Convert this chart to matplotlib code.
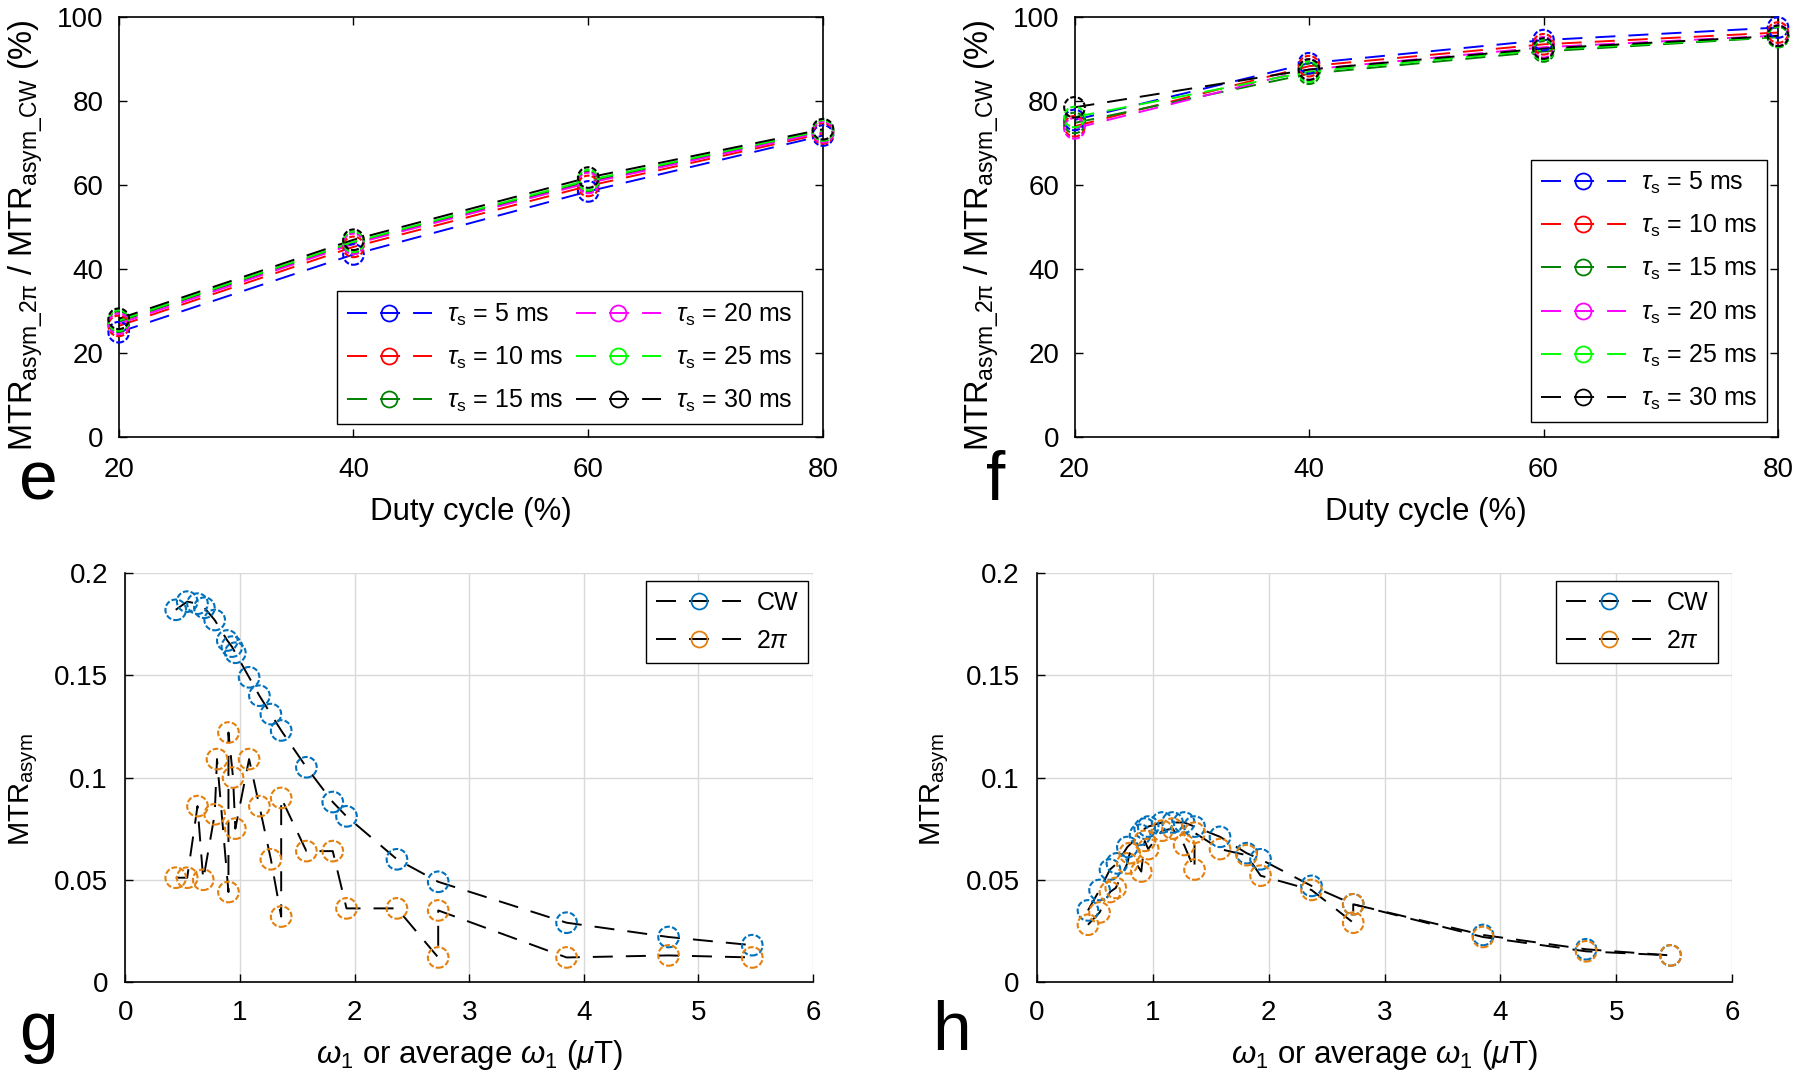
import matplotlib
matplotlib.use("Agg")
import matplotlib.pyplot as plt
from matplotlib.lines import Line2D

plt.rcParams.update({
    'font.family': 'Liberation Sans',
    'mathtext.fontset': 'custom',
    'mathtext.rm': 'Liberation Sans',
    'mathtext.it': 'Liberation Sans:italic',
    'mathtext.bf': 'Liberation Sans:bold',
    'lines.scale_dashes': False,
})

# ---- panels e / f : ratio vs duty cycle ----
duty_cycle = [20, 40, 60, 80]
tau_labels = [r'$\tau_\mathrm{s}$ = 5 ms', r'$\tau_\mathrm{s}$ = 10 ms', r'$\tau_\mathrm{s}$ = 15 ms',
              r'$\tau_\mathrm{s}$ = 20 ms', r'$\tau_\mathrm{s}$ = 25 ms', r'$\tau_\mathrm{s}$ = 30 ms']
tau_colors = ['#0000ff', '#ff0000', '#008000', '#ff00ff', '#00ff00', '#000000']

e_5ms = [25.0, 43.5, 58.5, 71.8]
e_10ms = [26.5, 45.3, 59.8, 72.3]
e_15ms = [27.5, 46.3, 60.8, 72.8]
e_20ms = [27.0, 46.0, 60.5, 72.6]
e_25ms = [27.8, 46.5, 61.2, 73.0]
e_30ms = [28.2, 47.0, 61.8, 73.3]

f_5ms = [75.5, 89.0, 94.5, 97.5]
f_10ms = [74.0, 88.3, 93.5, 96.3]
f_15ms = [74.8, 86.5, 91.8, 95.2]
f_20ms = [73.5, 87.5, 92.8, 95.6]
f_25ms = [76.2, 87.0, 92.2, 95.3]
f_30ms = [78.5, 87.5, 92.5, 95.5]

# ---- panels g / h : MTRasym vs omega1 ----
omega_cw = [0.44, 0.54, 0.63, 0.69, 0.78, 0.89, 0.93, 0.96, 1.08, 1.17,
            1.27, 1.36, 1.58, 1.81, 1.93, 2.37, 2.73, 3.85, 4.74, 5.47]
g_cw = [0.182, 0.186, 0.185, 0.183, 0.177, 0.167, 0.164, 0.161, 0.149, 0.140,
        0.131, 0.123, 0.105, 0.088, 0.081, 0.060, 0.049, 0.029, 0.022, 0.018]
h_cw = [0.035, 0.045, 0.055, 0.058, 0.066, 0.072, 0.075, 0.076, 0.078, 0.078,
        0.078, 0.076, 0.071, 0.063, 0.060, 0.047, 0.038, 0.023, 0.016, 0.013]

omega_2pi_g = [0.44, 0.54, 0.63, 0.68, 0.78, 0.80, 0.90, 0.90, 0.94, 0.96, 1.08, 1.17,
               1.27, 1.36, 1.36, 1.58, 1.81, 1.93, 2.37, 2.73, 2.73, 3.85, 4.74, 5.47]
g_2pi = [0.051, 0.051, 0.086, 0.050, 0.082, 0.109, 0.044, 0.122, 0.100, 0.075, 0.109, 0.086,
         0.060, 0.032, 0.090, 0.064, 0.064, 0.036, 0.036, 0.012, 0.035, 0.012, 0.013, 0.012]

omega_2pi_h = [0.44, 0.54, 0.63, 0.68, 0.78, 0.80, 0.90, 0.93, 0.96, 1.08, 1.17, 1.27,
               1.36, 1.36, 1.58, 1.81, 1.93, 2.37, 2.73, 2.73, 3.85, 4.74, 5.47]
h_2pi = [0.028, 0.034, 0.044, 0.046, 0.058, 0.063, 0.054, 0.069, 0.065, 0.074, 0.075, 0.067,
         0.055, 0.073, 0.065, 0.062, 0.052, 0.045, 0.029, 0.038, 0.022, 0.015, 0.013]

CW_COLOR = '#0072bd'
PI_COLOR = '#e3800e'
DASH = (14.4, 9.4)
MARKER_DASH = (0, (4, 1.6))
LINE_W = 1.4
MARKER_S = 220
LEG_FONT = 18

W, H = 1800, 1083


def px_axes(fig, left, top, right, bottom):
    return fig.add_axes([left / W, 1 - bottom / H, (right - left) / W, (bottom - top) / H])


def legend_handle(line_color, marker_color):
    return Line2D([], [], color=line_color, lw=LINE_W, dashes=DASH, marker='o',
                  markersize=11.5, mfc='none', mec=marker_color, mew=1.3)


def draw_series(ax, x, y, line_color, marker_color):
    ax.plot(x, y, color=line_color, lw=LINE_W, dashes=DASH, zorder=2)
    ax.scatter(x, y, s=MARKER_S, facecolors='none', edgecolors=marker_color,
               linewidths=1.5, linestyles=MARKER_DASH, zorder=3, clip_on=False)


def duty_panel(fig, rect, series, ncol, anchor):
    ax = px_axes(fig, *rect)
    for vals, color in zip(series, tau_colors):
        draw_series(ax, duty_cycle, vals, color, color)
    ax.set_xlim(20, 80)
    ax.set_ylim(0, 100)
    ax.set_xticks([20, 40, 60, 80])
    ax.set_yticks([0, 20, 40, 60, 80, 100])
    ax.tick_params(direction='in', length=6, width=1.0, top=True, right=True,
                   labelsize=20, pad=11)
    ax.tick_params(axis='x', pad=14)
    for sp in ax.spines.values():
        sp.set_linewidth(1.2)
    ax.set_xlabel('Duty cycle (%)', fontsize=22.5)
    ax.xaxis.set_label_coords(0.5, -0.142)
    ax.set_ylabel(r'MTR$_{\mathrm{asym\_2\pi}}$ / MTR$_{\mathrm{asym\_CW}}$ (%)', fontsize=23.5)
    ax.yaxis.set_label_coords(-0.105, 0.48)
    handles = [legend_handle(c, c) for c in tau_colors]
    leg = ax.legend(handles, tau_labels, ncol=ncol, loc='lower right',
                    bbox_to_anchor=anchor, bbox_transform=fig.transFigure,
                    fontsize=LEG_FONT, handlelength=3.4, handletextpad=0.6,
                    columnspacing=0.5, borderpad=0.4, labelspacing=0.68,
                    borderaxespad=0, numpoints=1, fancybox=False,
                    edgecolor='black', framealpha=1)
    leg.get_frame().set_linewidth(1.0)
    return ax


def omega_panel(fig, rect, cw_vals, pi_x, pi_vals, anchor):
    ax = px_axes(fig, *rect)
    draw_series(ax, omega_cw, cw_vals, 'black', CW_COLOR)
    draw_series(ax, pi_x, pi_vals, 'black', PI_COLOR)
    ax.set_xlim(0, 6)
    ax.set_ylim(0, 0.2)
    ax.set_xticks(range(7))
    ax.set_yticks([0, 0.05, 0.1, 0.15, 0.2])
    ax.set_yticklabels(['0', '0.05', '0.1', '0.15', '0.2'])
    ax.grid(True, color='#d9d9d9', lw=1.0)
    ax.set_axisbelow(True)
    ax.spines['top'].set_visible(False)
    ax.spines['right'].set_visible(False)
    ax.spines['left'].set_linewidth(1.2)
    ax.spines['bottom'].set_linewidth(1.2)
    ax.tick_params(direction='in', length=6, width=1.0, labelsize=20)
    ax.tick_params(axis='x', pad=13)
    ax.tick_params(axis='y', pad=12.5)
    ax.set_xlabel(r'$\omega_1$ or average $\omega_1$ ($\mu$T)', fontsize=22.5)
    ax.xaxis.set_label_coords(0.5, -0.137)
    ax.set_ylabel(r'MTR$_{\mathrm{asym}}$', fontsize=21)
    ax.yaxis.set_label_coords(-0.124, 0.47)
    handles = [legend_handle('black', CW_COLOR), legend_handle('black', PI_COLOR)]
    leg = ax.legend(handles, ['CW', r'2$\pi$'], loc='upper right',
                    bbox_to_anchor=anchor, bbox_transform=fig.transFigure,
                    fontsize=LEG_FONT, handlelength=3.4, handletextpad=0.6,
                    borderpad=0.4, labelspacing=0.54, borderaxespad=0,
                    numpoints=1, fancybox=False, edgecolor='black', framealpha=1)
    leg.get_frame().set_linewidth(1.0)
    return ax


fig = plt.figure(figsize=(18, 10.83), dpi=100)

duty_panel(fig, (118.7, 17, 823, 437.3),
           [e_5ms, e_10ms, e_15ms, e_20ms, e_25ms, e_30ms], 2, (802 / W, 1 - 424 / H))
duty_panel(fig, (1074.5, 17, 1778, 437.3),
           [f_5ms, f_10ms, f_15ms, f_20ms, f_25ms, f_30ms], 1, (1767 / W, 1 - 422 / H))
omega_panel(fig, (125.3, 573, 813, 982), g_cw, omega_2pi_g, g_2pi, (808 / W, 1 - 581 / H))
omega_panel(fig, (1037, 573, 1732, 982), h_cw, omega_2pi_h, h_2pi, (1718 / W, 1 - 581 / H))

for letter, x, y in [('e', 38, 500), ('f', 996, 500), ('g', 38, 1050), ('h', 951, 1050)]:
    fig.text(x / W, 1 - y / H, letter, fontsize=50, ha='center', va='baseline')

fig.savefig('out.png', dpi=100)
plt.close(fig)
